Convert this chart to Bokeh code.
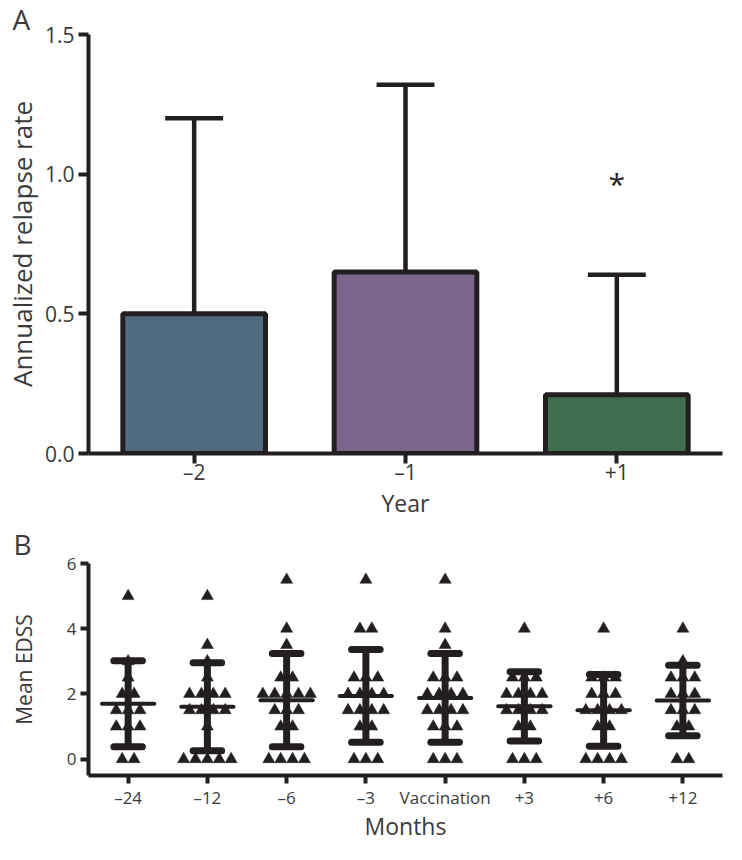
from collections import Counter

from bokeh.plotting import figure
from bokeh.models import FixedTicker, Range1d
from bokeh.layouts import column
from bokeh.embed import file_html
from bokeh.resources import INLINE
from bokeh.core.properties import value

# ---------------- Panel A data ----------------
years = ["–2", "–1", "+1"]
relapse_rate = [0.50, 0.65, 0.21]
relapse_upper = [1.20, 1.32, 0.64]
bar_colors = ["#506a7f", "#7a668b", "#3e6e4b"]
asterisk_year = "+1"
asterisk_y = 0.98
a_yticks = [0.0, 0.5, 1.0, 1.5]
a_ytick_labels = ["0.0", "0.5", "1.0", "1.5"]

# ---------------- Panel B data ----------------
months = ["–24", "–12", "–6", "–3", "Vaccination", "+3", "+6", "+12"]
edss_m24 = [5, 3, 2.5, 2, 2, 1.5, 1.5, 1.5, 1, 1, 1, 0, 0]
edss_m12 = [5, 3.5, 3, 2.5, 2, 2, 2, 2, 1.5, 1.5, 1.5, 1.5, 1, 0, 0, 0, 0, 0]
edss_m6 = [5.5, 4, 3.5, 2.5, 2.5, 2, 2, 2, 2, 2, 1.5, 1.5, 1.5, 1, 1, 0, 0, 0, 0]
edss_m3 = [5.5, 4, 4, 2.5, 2.5, 2.5, 2, 2, 2, 2, 1.5, 1.5, 1.5, 1.5, 1, 1, 0, 0, 0]
edss_vacc = [5.5, 4, 3.5, 2.5, 2.5, 2.5, 2, 2, 2, 2, 1.5, 1.5, 1.5, 1.5, 1, 1, 1, 0, 0, 0]
edss_p3 = [4, 2.5, 2.5, 2.5, 2, 2, 2, 2, 1.5, 1.5, 1.5, 1.5, 1, 1, 0, 0, 0]
edss_p6 = [4, 2.5, 2.5, 2.5, 2, 2, 2, 1.5, 1.5, 1.5, 1.5, 1, 1, 0, 0, 0, 0]
edss_p12 = [4, 3, 2.5, 2.5, 2.5, 2, 2, 2, 1.5, 1.5, 1.5, 1, 1, 0, 0]
edss_groups = [edss_m24, edss_m12, edss_m6, edss_m3, edss_vacc, edss_p3, edss_p6, edss_p12]
edss_mean = [1.70, 1.61, 1.81, 1.94, 1.88, 1.62, 1.50, 1.80]
edss_sd = [1.32, 1.35, 1.43, 1.42, 1.36, 1.06, 1.10, 1.08]
b_yticks = [0, 2, 4, 6]

INK = "#231f20"
TXT = "#3a3a3a"
FONT = "Open Sans"


def style_axis(ax, tick_size, label_size, tick_out, label_standoff, axis_standoff, lh=1.2):
    ax.axis_line_width = 4
    ax.axis_line_color = INK
    ax.major_tick_line_width = 4
    ax.major_tick_line_color = INK
    ax.major_tick_in = 0
    ax.major_tick_out = tick_out
    ax.minor_tick_line_color = None
    ax.major_label_text_font = FONT
    ax.major_label_text_font_size = tick_size
    ax.major_label_text_color = TXT
    ax.major_label_standoff = label_standoff
    ax.major_label_text_line_height = lh
    ax.axis_label_text_font = FONT
    ax.axis_label_text_font_size = label_size
    ax.axis_label_text_font_style = "normal"
    ax.axis_label_text_color = TXT
    ax.axis_label_standoff = axis_standoff
    ax.axis_label_text_line_height = lh


def panel_title(p, letter, size, offset, standoff):
    p.title.text = letter
    p.title.align = "left"
    p.title.offset = offset
    p.title.standoff = standoff
    p.title.text_font = FONT
    p.title.text_font_size = size
    p.title.text_font_style = "normal"
    p.title.text_color = TXT


# ================= Panel A =================
xa = [i + 1 for i in range(len(years))]
pa = figure(width=726, height=521, output_backend="svg", toolbar_location=None,
            x_range=Range1d(0.5, len(years) + 0.5), y_range=Range1d(0, 1.5),
            min_border_left=76, min_border_right=2, min_border_top=24, min_border_bottom=60)
pa.outline_line_color = None
pa.xgrid.visible = False
pa.ygrid.visible = False
panel_title(pa, "A", "28px", -76, -6)

cap_half_a = 0.137
pa.segment(x0=xa, y0=relapse_rate, x1=xa, y1=relapse_upper, line_color=INK, line_width=4.5)
pa.segment(x0=[x - cap_half_a for x in xa], y0=relapse_upper,
           x1=[x + cap_half_a for x in xa], y1=relapse_upper, line_color=INK, line_width=4.5)
pa.vbar(x=xa, top=relapse_rate, bottom=0, width=0.675, fill_color=bar_colors,
        line_color=INK, line_width=5)
pa.text(x=[years.index(asterisk_year) + 1], y=[asterisk_y], text=["*"],
        text_align="center", text_baseline="middle", y_offset=4, text_font=value(FONT),
        text_font_size="30px", text_color=INK)

pa.xaxis.ticker = FixedTicker(ticks=xa)
pa.xaxis.major_label_overrides = {x: lab for x, lab in zip(xa, years)}
pa.yaxis.ticker = FixedTicker(ticks=a_yticks)
pa.yaxis.major_label_overrides = {t: lab for t, lab in zip(a_yticks, a_ytick_labels)}
pa.xaxis.axis_label = "Year"
pa.yaxis.axis_label = "Annualized relapse rate"
style_axis(pa.xaxis[0], "21px", "23px", 10, -6, -2, 0.5)
style_axis(pa.yaxis[0], "21px", "26px", 10, 4, 2)

# ================= Panel B =================
xb = [i + 1 for i in range(len(months))]
pb = figure(width=726, height=323, output_backend="svg", toolbar_location=None,
            x_range=Range1d(0.5, len(months) + 0.5), y_range=Range1d(-0.5, 6),
            min_border_left=75, min_border_right=4, min_border_top=33, min_border_bottom=60)
pb.outline_line_color = None
pb.xgrid.visible = False
pb.ygrid.visible = False
panel_title(pb, "B", "28px", -75, 2)

# beeswarm-style placement of the points: equal spacing around the group centre
spacing = 0.15
px, py = [], []
for gx, vals in zip(xb, edss_groups):
    counts = Counter(vals)
    for v, k in counts.items():
        for i in range(k):
            px.append(gx + (i - (k - 1) / 2) * spacing)
            py.append(v)
pb.scatter(x=px, y=py, marker="triangle", size=12, fill_color=INK, line_color=INK,
           line_width=0.5)

lo = [m - s for m, s in zip(edss_mean, edss_sd)]
hi = [m + s for m, s in zip(edss_mean, edss_sd)]
pb.segment(x0=xb, y0=lo, x1=xb, y1=hi, line_color=INK, line_width=7)
cap_half_b = 0.18
for yy in (lo, hi):
    pb.segment(x0=[x - cap_half_b for x in xb], y0=yy, x1=[x + cap_half_b for x in xb], y1=yy,
               line_color=INK, line_width=7, line_cap="round")
mean_half = 0.33
pb.segment(x0=[x - mean_half for x in xb], y0=edss_mean, x1=[x + mean_half for x in xb],
           y1=edss_mean, line_color=INK, line_width=4, line_cap="round")

pb.xaxis.ticker = FixedTicker(ticks=xb)
pb.xaxis.major_label_overrides = {x: lab for x, lab in zip(xb, months)}
pb.yaxis.ticker = FixedTicker(ticks=b_yticks)
pb.xaxis.axis_label = "Months"
pb.yaxis.axis_label = "Mean EDSS"
style_axis(pb.xaxis[0], "17px", "23px", 8, 2, -2, 0.5)
style_axis(pb.yaxis[0], "17px", "21px", 8, 4, 26)

layout = column(pa, pb, spacing=0)
open("out.html", "w").write(file_html(layout, INLINE))
